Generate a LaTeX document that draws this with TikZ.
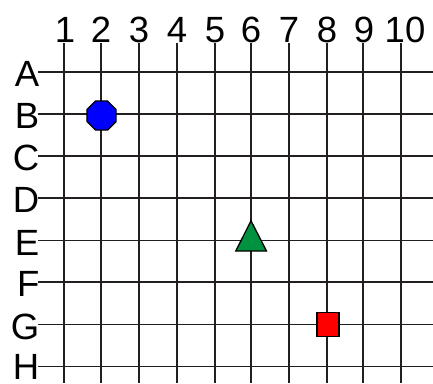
\documentclass[tikz,border=0pt]{standalone}
\usepackage{fontspec}
\setmainfont{Liberation Sans}
\usetikzlibrary{shapes.geometric}
\definecolor{gridc}{RGB}{35,31,32}
\definecolor{mgreen}{RGB}{0,146,63}
\begin{document}
\begin{tikzpicture}[x=1pt,y=-1pt,
  gridline/.style={draw=gridc, line width=1.6pt},
  labelfont/.style={font=\fontsize{36.5}{36.5}\selectfont, inner sep=0pt, text=black},
  collabel/.style={labelfont, anchor=base},
  rowlabel/.style={labelfont, anchor=base east},
  marker/.style={draw=black, line width=1.3pt, inner sep=0pt}]
\useasboundingbox (0,0) rectangle (433,383);
\foreach \x [count=\i] in {64,101,139,177,215,251,289,327,363,401} {
  \draw[gridline] (\x,43) -- (\x,383);
}
\foreach \y in {72,114,156,198,240.5,282,324.5,366.5} {
  \draw[gridline] (38,\y) -- (433,\y);
}
\foreach \x/\t in {65/1,101/2,139/3,177/4,215/5,251/6,289/7,327/8,364/9,405/10} {
  \node[collabel] (c\t) at (\x,42) {\t};
}
\foreach \y/\l in {72/A,114/B,156/C,198/D,240.5/E,282/F,324.5/G} {
  \node[rowlabel] (r\l) at (39.5,\y+14.5) {\l};
}
\node[rowlabel] (rH) at (39.5,379) {H};
\node[marker, regular polygon, regular polygon sides=8, minimum size=31.5pt, fill=blue] (oct) at (101.5,115.5) {};
\draw[marker, fill=mgreen, line join=miter] (251,220.8) -- (266.5,251) -- (235.8,251) -- cycle;
\coordinate (tri) at (251,240.5);
\node[marker, rectangle, minimum width=22pt, minimum height=24pt, fill=red] (sq) at (328,324.5) {};
\end{tikzpicture}
\end{document}
